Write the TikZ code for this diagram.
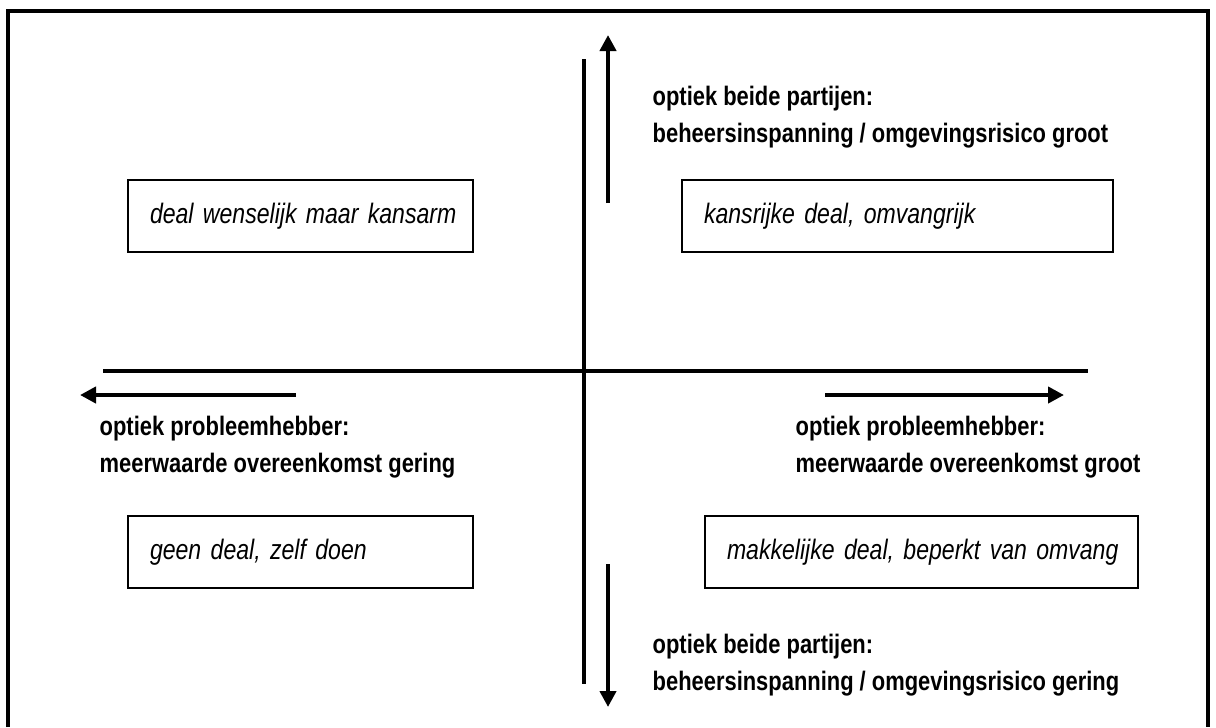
\documentclass[tikz,border=0pt]{standalone}
\usepackage{fontspec}
\setmainfont{Liberation Sans}
\newfontfamily\narrowfont[FakeStretch=0.82]{Liberation Sans}
\usetikzlibrary{arrows.meta,positioning}

\tikzset{
  frame/.style={line width=0.04cm},
  axis/.style={line width=0.04cm},
  pointer/.style={line width=0.04cm, -{Triangle[length=0.16cm,width=0.16cm]}},
  dealbox/.style={draw, line width=0.02cm, anchor=north west, minimum height=0.72cm,
    inner xsep=0.22cm, align=left,
    font={\narrowfont\itshape\fontsize{8}{10}\selectfont\spaceskip=0.18em\relax}},
  optiek/.style={anchor=base west, inner sep=0pt, align=left,
    font=\narrowfont\bfseries\fontsize{7.6}{10.5}\selectfont}
}

\begin{document}
\begin{tikzpicture}[x=0.01cm,y=-0.01cm]
  \useasboundingbox (0,0) rectangle (1216,727);
  % frame, open at the bottom
  \draw[frame] (8,727) -- (8,11) -- (1208,11) -- (1208,727);

  % axes
  \coordinate (top) at (584,59);
  \coordinate (bottom) at (584,684);
  \coordinate (left) at (103,371);
  \coordinate (right) at (1088,371);
  \draw[axis] (top) -- (bottom);
  \draw[axis] (left) -- (right);

  % arrows
  \coordinate (up0) at (608,203);
  \coordinate (up1) at (608,35);
  \coordinate (down0) at (608,564);
  \coordinate (down1) at (608,707);
  \coordinate (west0) at (296,395);
  \coordinate (west1) at (80,395);
  \coordinate (east0) at (825,395);
  \coordinate (east1) at (1064,395);
  \draw[pointer] (up0) -- (up1);
  \draw[pointer] (down0) -- (down1);
  \draw[pointer] (west0) -- (west1);
  \draw[pointer] (east0) -- (east1);

  % quadrants
  \node[dealbox, text width=3.01cm] (wenselijk) at (127,179) {\mbox{deal wenselijk maar kansarm}};
  \node[dealbox, text width=3.87cm] (kansrijk) at (681,179) {\mbox{kansrijke deal, omvangrijk}};
  \node[dealbox, text width=3.01cm] (geen) at (127,515) {\mbox{geen deal, zelf doen}};
  \node[dealbox, text width=3.89cm] (makkelijk) at (704,515) {\mbox{makkelijke deal, beperkt van omvang}};

  % labels (base = last line)
  \node[optiek] (groot) at (652,142) {optiek beide partijen:\\beheersinspanning / omgevingsrisico groot};
  \node[optiek] (gering) at (99,472) {optiek probleemhebber:\\meerwaarde overeenkomst gering};
  \node[optiek] (meer) at (795,472) {optiek probleemhebber:\\meerwaarde overeenkomst groot};
  \node[optiek] (laag) at (652,690) {optiek beide partijen:\\beheersinspanning / omgevingsrisico gering};
\end{tikzpicture}
\end{document}
